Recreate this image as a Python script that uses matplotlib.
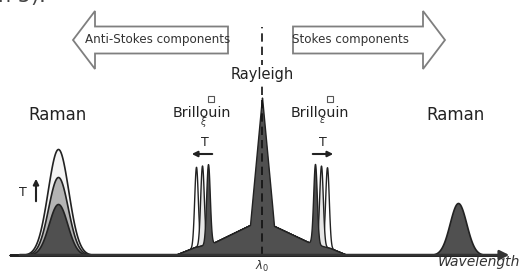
import matplotlib.pyplot as plt
import numpy as np
from matplotlib.patches import FancyArrow

# values (x = wavelength position, y = intensity, arbitrary units)
pedestal_x = [175, 195, 213, 250, 262, 272, 308, 330, 347]
pedestal_y = [0, 8, 12, 30, 31, 30, 13, 7, 0]

rayleigh_center = 262
rayleigh_height = 127
rayleigh_halfbase = 12

brill_as_centers = [196, 202, 208]   # anti-Stokes, lightest -> dark
brill_s_centers = [327, 321, 315]    # Stokes, lightest -> dark
brill_height = 80
brill_sigma = 1.8

raman_as_center = 58
raman_as_heights = [106, 78, 51]     # T high -> T low
raman_as_sigmas = [10.3, 9.8, 9.3]
raman_s_center = 458
raman_s_height = 52
raman_s_sigma = 8.3

shade_colors = ['#f4f4f4', '#b4b4b4', '#505050']

x = np.linspace(10, 500, 3000)


def gauss(c, h, s):
    return h * np.exp(-0.5 * ((x - c) / s) ** 2)


ped = np.interp(x, pedestal_x, pedestal_y, left=0, right=0)
ray = rayleigh_height * np.clip(1 - np.abs(x - rayleigh_center) / rayleigh_halfbase, 0, None)

fig = plt.figure(figsize=(5.25, 2.75), dpi=100)
ax = fig.add_axes([0, 0, 1, 1])
ax.set_xlim(0, 525)
ax.set_ylim(-20, 255)
ax.axis('off')

# Raman anti-Stokes, three temperatures
for h, s, col in zip(raman_as_heights, raman_as_sigmas, shade_colors):
    ax.fill_between(x, 0, gauss(raman_as_center, h, s), facecolor=col,
                    edgecolor='#222222', lw=1.2, zorder=2)

# lighter Brillouin peaks behind the dark ones
for cs in (brill_as_centers, brill_s_centers):
    for c, col in zip(cs[:2], ['white', '#e6e6e6']):
        ax.fill_between(x, 0, ped + gauss(c, brill_height, brill_sigma),
                        facecolor=col, edgecolor='#222222', lw=1.0, zorder=3)

dark = ped + ray + gauss(brill_as_centers[2], brill_height, brill_sigma) \
    + gauss(brill_s_centers[2], brill_height, brill_sigma)
ax.fill_between(x, 0, dark, facecolor=shade_colors[2], edgecolor='#222222',
                lw=1.0, zorder=4)
ax.fill_between(x, 0, gauss(raman_s_center, raman_s_height, raman_s_sigma),
                facecolor=shade_colors[2], edgecolor='#222222', lw=1.2, zorder=4)

# dashed centre line
ax.plot([rayleigh_center, rayleigh_center], [0, 228], ls=(0, (5, 3)),
        color='#111111', lw=1.2, zorder=5)

# wavelength axis
ax.annotate('', xy=(512, 0), xytext=(17, 0),
            arrowprops=dict(arrowstyle='-|>', lw=1.8, color='#333333',
                            mutation_scale=14), zorder=6)
ax.text(520, -7, 'Wavelength', style='italic', fontsize=10, ha='right',
        va='center', color='#333333')
ax.text(rayleigh_center, -11, r'$\lambda_0$', fontsize=8.5, ha='center',
        va='center', color='#333333')

# big hollow arrows
ax.add_patch(FancyArrow(228, 215, -155, 0, width=27, head_width=58,
                        head_length=22, length_includes_head=True,
                        facecolor='white', edgecolor='#7f7f7f', lw=1.3, zorder=1))
ax.add_patch(FancyArrow(293, 215, 152, 0, width=27, head_width=58,
                        head_length=22, length_includes_head=True,
                        facecolor='white', edgecolor='#7f7f7f', lw=1.3, zorder=1))
ax.text(158, 215, 'Anti-Stokes components', fontsize=8.6, ha='center',
        va='center', color='#333333', zorder=2)
ax.text(351, 215, 'Stokes components', fontsize=8.6, ha='center',
        va='center', color='#333333', zorder=2)

# labels
ax.text(rayleigh_center, 180, 'Rayleigh', fontsize=10.5, ha='center',
        va='center', color='#222222', zorder=7,
        bbox=dict(facecolor='white', edgecolor='none', pad=1.5))
ax.text(57, 140, 'Raman', fontsize=12, ha='center', va='center', color='#222222')
ax.text(456, 140, 'Raman', fontsize=12, ha='center', va='center', color='#222222')
ax.text(202, 142, 'Brillouin', fontsize=10.3, ha='center', va='center', color='#222222')
ax.text(320, 142, 'Brillouin', fontsize=10.3, ha='center', va='center', color='#222222')
ax.plot([211, 330], [156, 156], ls='none', marker='s', ms=5,
        markerfacecolor='white', markeredgecolor='#555555', mew=0.8)
ax.text(204, 133, r'$\xi$', fontsize=7, ha='center', va='center', color='#333333')
ax.text(322, 135, r'$\epsilon$', fontsize=7, ha='center', va='center', color='#333333')

# temperature arrows
ax.text(205, 112, 'T', fontsize=9, ha='center', va='center', color='#222222')
ax.annotate('', xy=(189, 101), xytext=(215, 101),
            arrowprops=dict(arrowstyle='-|>', lw=1.5, color='#222222', mutation_scale=8))
ax.text(323, 112, 'T', fontsize=9, ha='center', va='center', color='#222222')
ax.annotate('', xy=(336, 101), xytext=(310, 101),
            arrowprops=dict(arrowstyle='-|>', lw=1.5, color='#222222', mutation_scale=8))
ax.text(23, 63, 'T', fontsize=9, ha='center', va='center', color='#222222')
ax.annotate('', xy=(36, 79), xytext=(36, 51),
            arrowprops=dict(arrowstyle='-|>', lw=1.5, color='#222222', mutation_scale=8))

# cut-off text from the page above
ax.text(-2, 253, 'n 5).', fontsize=15, ha='left', va='baseline', color='#444444')

fig.savefig('out.png', dpi=100)
